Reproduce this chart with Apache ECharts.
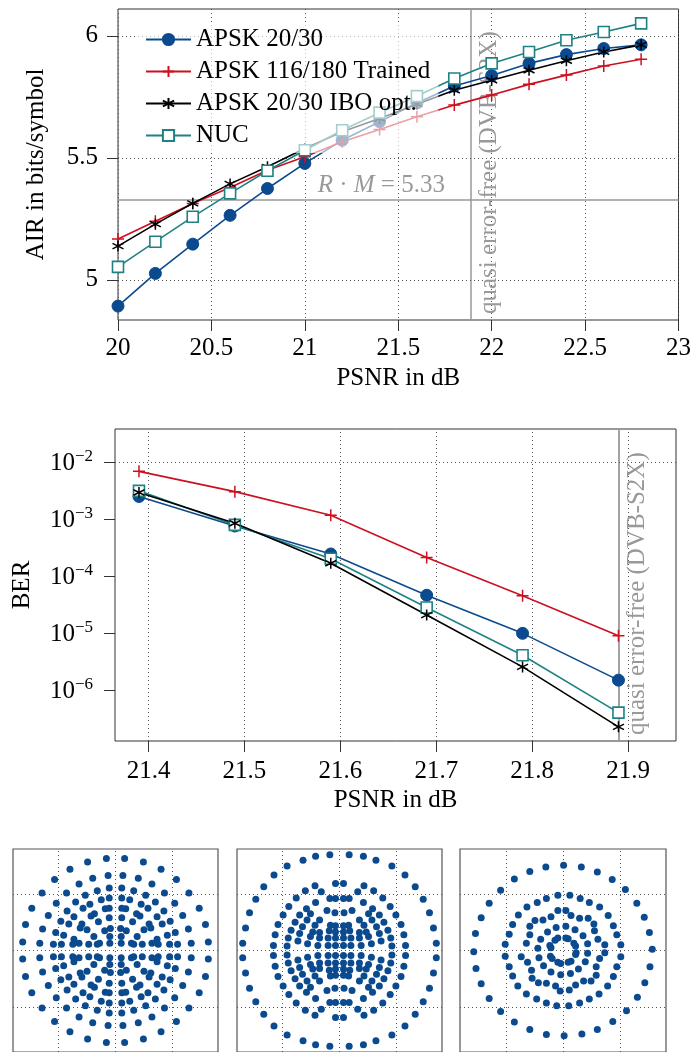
<!DOCTYPE html>
<html><head><meta charset="utf-8">
<script src="https://cdn.jsdelivr.net/npm/echarts@6/dist/echarts.min.js"></script>
<style>html,body{margin:0;padding:0;background:#fff}#c{width:694px;height:1052px}</style>
</head><body><div id="c"></div>
<script>
// ---------- data ----------
const seriesNames = ['APSK 20/30', 'APSK 116/180 Trained', 'APSK 20/30 IBO opt.', 'NUC'];

const psnrAIR = [20, 20.2, 20.4, 20.6, 20.8, 21, 21.2, 21.4, 21.6, 21.8, 22, 22.2, 22.4, 22.6, 22.8];
const airAPSK    = [4.892, 5.026, 5.146, 5.264, 5.374, 5.477, 5.572, 5.648, 5.725, 5.794, 5.837, 5.887, 5.923, 5.948, 5.963];
const airTrained = [5.167, 5.240, 5.313, 5.378, 5.449, 5.504, 5.566, 5.616, 5.668, 5.716, 5.757, 5.801, 5.839, 5.876, 5.904];
const airIBO     = [5.138, 5.228, 5.313, 5.393, 5.463, 5.538, 5.607, 5.661, 5.720, 5.777, 5.818, 5.859, 5.898, 5.934, 5.963];
const airNUC     = [5.053, 5.156, 5.258, 5.354, 5.447, 5.531, 5.613, 5.685, 5.753, 5.825, 5.887, 5.934, 5.982, 6.016, 6.051];
const airXTicks = [20, 20.5, 21, 21.5, 22, 22.5, 23];
const airYTicks = [5, 5.5, 6];
const rateTimesM = 5.33;
const dvbPSNR = 21.89;

const psnrBER = [21.39, 21.49, 21.59, 21.69, 21.79, 21.89];
const berAPSK    = [2.47e-3, 7.5e-4, 2.43e-4, 4.6e-5, 9.9e-6, 1.5e-6];
const berTrained = [6.8e-3, 3.0e-3, 1.16e-3, 2.1e-4, 4.5e-5, 9.0e-6];
const berIBO     = [2.9e-3, 8.4e-4, 1.67e-4, 2.07e-5, 2.56e-6, 2.28e-7];
const berNUC     = [3.1e-3, 7.85e-4, 2.0e-4, 2.8e-5, 4.1e-6, 4.05e-7];
const berXTicks = [21.4, 21.5, 21.6, 21.7, 21.8, 21.9];
const berYTicks = [1e-6, 1e-5, 1e-4, 1e-3, 1e-2];

// constellation 1 and 2: one quadrant (mirror-symmetric constellations)
const const1Quadrant = [[-0.16,1.63],[-0.49,1.57],[-0.80,1.44],[-0.13,1.33],[-0.40,1.28],[-1.07,1.26],[-0.64,1.18],[-0.11,1.11],[-0.32,1.06],[-1.29,1.02],[-0.86,1.02],[-0.53,0.98],[-0.11,0.93],[-0.25,0.90],[-0.70,0.86],[-1.04,0.84],[-0.45,0.82],[-1.47,0.75],[-0.57,0.75],[-0.18,0.74],[-0.11,0.75],[-0.85,0.70],[-0.37,0.65],[-0.43,0.61],[-1.18,0.62],[-0.73,0.60],[-0.11,0.58],[-0.30,0.51],[-0.96,0.52],[-0.82,0.47],[-0.59,0.47],[-1.58,0.46],[-0.62,0.40],[-0.50,0.37],[-0.09,0.39],[-1.28,0.38],[-0.19,0.35],[-1.05,0.32],[-0.91,0.27],[-0.38,0.25],[-0.10,0.25],[-1.63,0.15],[-1.33,0.13],[-1.09,0.11],[-0.95,0.11],[-0.75,0.11],[-0.64,0.13],[-0.47,0.11],[-0.32,0.11],[-0.28,0.13],[-0.10,0.13],[-0.73,0.20]];
const const2Quadrant = [[-0.17,1.70],[-0.42,1.67],[-0.64,1.60],[-0.92,1.50],[-1.15,1.34],[-1.33,1.13],[-1.47,0.91],[-1.58,0.67],[-1.65,0.40],[-1.70,0.13],
[-0.07,1.19],[-0.43,1.15],[-0.60,1.06],[-0.76,0.93],[-0.89,0.78],[-0.99,0.63],[-1.08,0.46],[-1.13,0.28],[-1.16,0.09],
[-0.32,1.04],[-0.17,0.92],[-0.07,0.92],
[-0.42,0.85],[-0.58,0.74],[-0.70,0.63],[-0.78,0.50],[-0.85,0.36],[-0.90,0.22],[-0.92,0.08],
[-0.22,0.71],[-0.51,0.65],[-0.08,0.67],
[-0.57,0.54],[-0.35,0.54],[-0.43,0.45],[-0.16,0.45],[-0.07,0.44],
[-0.65,0.42],[-0.47,0.33],[-0.35,0.32],[-0.18,0.35],[-0.07,0.33],
[-0.70,0.30],[-0.51,0.25],[-0.35,0.22],[-0.20,0.22],[-0.07,0.22],
[-0.73,0.17],[-0.56,0.12],[-0.38,0.09],[-0.20,0.09],[-0.07,0.09]];
// constellation 3: all points
const const3Points = [
[0.01,1.51],[-0.30,1.48],[0.32,1.48],[-0.58,1.40],[0.60,1.39],[-0.85,1.27],[0.86,1.26],[-1.09,1.07],[1.09,1.08],[-1.29,0.84],[1.29,0.84],[-1.43,0.58],[1.42,0.59],[-1.53,0.30],[1.51,0.32],[1.56,0.02],[-1.56,-0.02],
[1.52,-0.29],[-1.52,-0.32],[1.43,-0.57],[-1.43,-0.59],[1.30,-0.83],[-1.29,-0.85],[1.11,-1.07],[-1.09,-1.08],[0.87,-1.26],[-0.85,-1.27],[0.60,-1.40],[-0.58,-1.40],[0.33,-1.48],[-0.29,-1.49],[0.02,-1.51],
[-0.09,0.98],[0.12,0.98],[-0.29,0.92],[0.30,0.92],[-0.45,0.85],[0.46,0.85],[-0.63,0.77],[0.64,0.77],[-0.78,0.63],[0.79,0.62],[-0.88,0.46],[0.88,0.44],[-0.94,0.29],[0.94,0.28],[-1.01,0.11],[1.01,0.10],
[-1.01,-0.10],[1.01,-0.11],[-0.94,-0.29],[0.94,-0.29],[-0.88,-0.45],[0.88,-0.46],[-0.79,-0.63],[0.78,-0.63],[-0.64,-0.77],[0.63,-0.77],[-0.46,-0.86],[0.46,-0.86],[-0.29,-0.93],[0.29,-0.93],[-0.11,-0.98],[0.10,-0.98],
[-0.09,0.71],[0.05,0.71],[-0.21,0.60],[0.14,0.62],[-0.35,0.54],[-0.49,0.53],[0.29,0.57],[0.44,0.57],[-0.58,0.43],[0.54,0.47],[-0.58,0.28],[0.55,0.35],[-0.64,0.13],[0.61,0.20],[0.73,0.10],
[-0.73,-0.11],[-0.62,-0.21],[-0.55,-0.35],[-0.54,-0.49],[-0.43,-0.57],[-0.29,-0.58],[-0.13,-0.63],[-0.05,-0.72],[0.11,-0.70],[0.22,-0.61],[0.36,-0.54],[0.49,-0.54],[0.58,-0.44],[0.58,-0.29],[0.64,-0.14],[0.73,-0.04],
[-0.27,0.33],[-0.12,0.41],[0.05,0.43],[0.21,0.37],[0.35,0.26],[0.43,0.12],[-0.39,0.20],[-0.44,0.04],[-0.42,-0.13],[-0.34,-0.27],[-0.21,-0.38],[-0.04,-0.43],[0.13,-0.41],[0.27,-0.33],[0.39,-0.20],[0.43,-0.05],
[-0.09,0.22],[-0.14,0.18],[0.05,0.22],[0.09,0.21],[0.19,0.13],[0.22,0.08],[-0.23,0.09],[-0.21,0.05],[-0.22,-0.10],[-0.19,-0.14],[-0.09,-0.21],[-0.04,-0.23],[0.09,-0.21],[0.14,-0.19],[0.22,-0.07],[0.23,-0.04]];
const constGridLines = [-1, 0, 1];

// ---------- styling ----------
const FONT = '"Liberation Serif","Times New Roman",serif';
const BLUE = '#0b4a8e', RED = '#cc1020', BLACK = '#000000', TEAL = '#1f8282';
const PLUS = 'path://M5,0L5,10M0,5L10,5';
const STAR = 'path://M5,0L5,10M0.67,2.5L9.33,7.5M0.67,7.5L9.33,2.5';
const styles = [
  {c: BLUE, sym: 'circle', size: 12, fill: BLUE, bw: 1},
  {c: RED, sym: PLUS, size: 12, fill: RED, bw: 1.5},
  {c: BLACK, sym: STAR, size: 11, fill: BLACK, bw: 1.5},
  {c: TEAL, sym: 'rect', size: 11, fill: '#ffffff', bw: 1.6}
];

function pairs(xs, ys) { return xs.map((x, i) => [x, ys[i]]); }
function mirror4(q) { const o = []; q.forEach(([x, y]) => { o.push([x, y], [-x, y], [x, -y], [-x, -y]); }); return o; }

function lineSeries(k, xs, ys, gi, extra) {
  const s = styles[k];
  return Object.assign({
    type: 'line', name: seriesNames[k], xAxisIndex: gi, yAxisIndex: gi,
    data: pairs(xs, ys), showAllSymbol: true, silent: true, animation: false,
    symbol: s.sym, symbolSize: s.size, z: 3,
    lineStyle: {color: s.c, width: 1.6},
    itemStyle: {color: s.fill, borderColor: s.c, borderWidth: s.bw},
    emphasis: {disabled: true}
  }, extra || {});
}

const dotted = {type: [1, 3], color: '#555', width: 1};
const tickLab = {fontFamily: FONT, fontSize: 25, color: '#000'};
const nameSty = {fontFamily: FONT, fontSize: 25, color: '#000'};

function gridMarkLines(xs, ys) {
  return {
    silent: true, symbol: ['none', 'none'], z: 1, animation: false,
    lineStyle: dotted, label: {show: false},
    data: xs.map(v => ({xAxis: v})).concat(ys.map(v => ({yAxis: v})))
  };
}

const vertLabel = {
  show: true, formatter: 'quasi error-free (DVB-S2X)', position: 'insideStartBottom',
  color: '#999', fontFamily: FONT, fontSize: 25, distance: 6
};

// top chart series
const topSeries = [
  lineSeries(0, psnrAIR, airAPSK, 0, {
    markLine: {
      silent: true, symbol: ['none', 'none'], z: 1, animation: false,
      lineStyle: {color: '#999', width: 1.5, type: 'solid'},
      data: [
        {yAxis: rateTimesM, label: {show: false}},
        {xAxis: dvbPSNR, label: vertLabel}
      ]
    },
    markPoint: {
      silent: true, animation: false, symbol: 'circle', symbolSize: 0,
      data: [{coord: [21.75, rateTimesM]}],
      label: {
        show: true, position: [0, 0], align: 'right', verticalAlign: 'bottom', offset: [0, -1],
        formatter: '{i|R} · {i|M} = ' + rateTimesM.toFixed(2),
        color: '#999', fontFamily: FONT, fontSize: 25,
        rich: {i: {fontStyle: 'italic', color: '#999', fontFamily: FONT, fontSize: 25}}
      }
    }
  }),
  lineSeries(1, psnrAIR, airTrained, 0),
  lineSeries(2, psnrAIR, airIBO, 0),
  lineSeries(3, psnrAIR, airNUC, 0, {markLine: gridMarkLines([], airYTicks)})
];

const berSeries = [
  lineSeries(1, psnrBER, berTrained, 1, {
    markLine: {
      silent: true, symbol: ['none', 'none'], z: 1, animation: false,
      lineStyle: {color: '#999', width: 1.8, type: 'solid'},
      data: [{xAxis: dvbPSNR, label: vertLabel}]
    }
  }),
  lineSeries(0, psnrBER, berAPSK, 1),
  lineSeries(3, psnrBER, berNUC, 1),
  lineSeries(2, psnrBER, berIBO, 1, {markLine: gridMarkLines(berXTicks, berYTicks)})
];

function constSeries(gi, pts) {
  return {
    type: 'scatter', xAxisIndex: gi, yAxisIndex: gi, data: pts, symbolSize: 7,
    silent: true, animation: false, itemStyle: {color: BLUE, opacity: 1}, z: 3,
    markLine: gridMarkLines(constGridLines, constGridLines)
  };
}

const constAxis = (gi) => ({
  gridIndex: gi, type: 'value', min: -1.8, max: 1.8,
  axisLine: {show: false}, axisTick: {show: false}, axisLabel: {show: false}, splitLine: {show: false}
});

const option = {
  animation: false,
  backgroundColor: '#fff',
  grid: [
    {left: 118, top: 9, width: 561, height: 311, show: true, borderColor: '#333', borderWidth: 1},
    {left: 115, top: 429, width: 561, height: 312, show: true, borderColor: '#333', borderWidth: 1},
    {left: 13, top: 849, width: 205, height: 205, show: true, borderColor: '#555', borderWidth: 1.2},
    {left: 237, top: 849, width: 205, height: 205, show: true, borderColor: '#555', borderWidth: 1.2},
    {left: 460, top: 849, width: 206, height: 205, show: true, borderColor: '#555', borderWidth: 1.2}
  ],
  legend: {
    show: true, data: seriesNames, orient: 'vertical', left: 137, top: 22,
    itemWidth: 45, itemHeight: 14, itemGap: 7, padding: [5, 8],
    backgroundColor: 'rgba(255,255,255,0.6)', borderWidth: 0, selectedMode: false,
    textStyle: {fontFamily: FONT, fontSize: 25, color: '#000', lineHeight: 25}
  },
  xAxis: [
    {gridIndex: 0, type: 'value', min: 20, max: 23, interval: 0.5,
      name: 'PSNR in dB', nameLocation: 'middle', nameGap: 46, nameTextStyle: nameSty,
      axisLine: {show: false},
      axisTick: {show: true, length: 11, lineStyle: {color: '#333'}},
      axisLabel: Object.assign({margin: 16, showMinLabel: true, showMaxLabel: true}, tickLab),
      splitLine: {show: true, lineStyle: dotted}},
    {gridIndex: 1, type: 'value', min: 21.365, max: 21.95,
      name: 'PSNR in dB', nameLocation: 'middle', nameGap: 47, nameTextStyle: nameSty,
      axisLine: {show: false},
      axisTick: {show: true, length: 11, lineStyle: {color: '#333'}, customValues: berXTicks},
      axisLabel: Object.assign({margin: 18, customValues: berXTicks, formatter: v => v.toFixed(1)}, tickLab),
      splitLine: {show: false}},
    constAxis(2), constAxis(3), constAxis(4)
  ],
  yAxis: [
    {gridIndex: 0, type: 'value', min: 4.835, max: 6.11,
      name: 'AIR in bits/symbol', nameLocation: 'middle', nameGap: 69, nameTextStyle: nameSty,
      axisLine: {show: false},
      axisTick: {show: true, length: 11, lineStyle: {color: '#333'}, customValues: airYTicks},
      axisLabel: Object.assign({margin: 20, customValues: airYTicks, formatter: v => String(v)}, tickLab),
      splitLine: {show: false}},
    {gridIndex: 1, type: 'log', logBase: 10, min: 1.29e-7, max: 0.0375,
      name: 'BER', nameLocation: 'middle', nameGap: 80, nameTextStyle: nameSty,
      axisLine: {show: false},
      axisTick: {show: true, length: 11, lineStyle: {color: '#333'}, customValues: berYTicks},
      axisLabel: {margin: 22, customValues: berYTicks, color: '#000',
        formatter: v => '{b|10}{s|−' + (-Math.round(Math.log10(v))) + '}',
        rich: {
          b: {fontFamily: FONT, fontSize: 25, color: '#000', lineHeight: 28, verticalAlign: 'bottom'},
          s: {fontFamily: FONT, fontSize: 17, color: '#000', lineHeight: 17, verticalAlign: 'top'}
        }},
      splitLine: {show: false}},
    constAxis(2), constAxis(3), constAxis(4)
  ],
  series: topSeries.concat(berSeries, [
    constSeries(2, mirror4(const1Quadrant)),
    constSeries(3, mirror4(const2Quadrant)),
    constSeries(4, const3Points)
  ])
};

const chart = echarts.init(document.getElementById('c'), null, {renderer: 'canvas'});
chart.setOption(option);
</script>
</body></html>
